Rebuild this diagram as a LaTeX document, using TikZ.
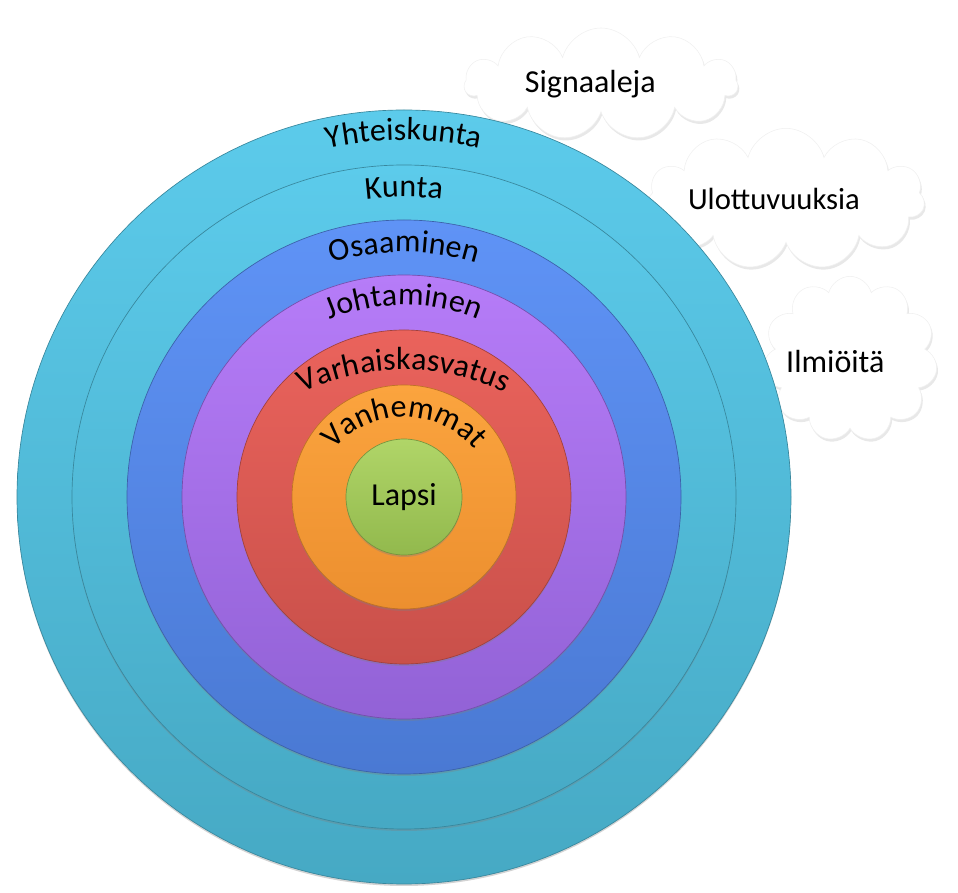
\documentclass[tikz,border=0pt]{standalone}
\usepackage{fontspec}
\setmainfont{Carlito}
\usetikzlibrary{calc, shapes.symbols, shadows, decorations.text}

\definecolor{skyTop}{HTML}{5CCBEB}
\definecolor{skyBot}{HTML}{46A9C4}
\definecolor{blueTop}{HTML}{5F93F6}
\definecolor{blueBot}{HTML}{4A79D3}
\definecolor{violetTop}{HTML}{B67CF8}
\definecolor{violetBot}{HTML}{9262D6}
\definecolor{redTop}{HTML}{EA635C}
\definecolor{redBot}{HTML}{C9504A}
\definecolor{orangeTop}{HTML}{FBA43E}
\definecolor{orangeBot}{HTML}{EC8F2F}
\definecolor{greenTop}{HTML}{B0D568}
\definecolor{greenBot}{HTML}{92B94D}

\newcommand{\ringfont}{\fontsize{24}{28}\selectfont}

\tikzset{
    cloudbox/.style={cloud, cloud puffs=11, cloud ignores aspect, fill=white, draw=gray!12,
        drop shadow={opacity=0.18, shadow xshift=1pt, shadow yshift=-2pt},
        font=\ringfont},
    ring/.style={line width=0.5pt,
        drop shadow={opacity=0.35, shadow xshift=0pt, shadow yshift=-1.5pt}},
}

\begin{document}
\begin{tikzpicture}[x=0.75pt, y=0.75pt]
    \useasboundingbox (0, 0) rectangle (958, 893);
    \coordinate (centre) at (404, 396);

    \node [cloudbox, minimum width=205pt, minimum height=84pt,
        label={[xshift=-8pt, font=\ringfont]center:Signaaleja}] (signaaleja) at (601, 809) {};
    \node [cloudbox, minimum width=208pt, minimum height=106pt,
        label={[xshift=-9pt, font=\fontsize{23}{27}\selectfont]center:Ulottuvuuksia}] (ulottuvuuksia) at (786, 694) {};
    \node [cloudbox, minimum width=131pt, minimum height=124pt,
        label={[xshift=-11pt, yshift=-2pt, font=\ringfont]center:Ilmiöitä}] (ilmioita) at (850, 534) {};

    \foreach \r/\colA/\colB in {387/skyTop/skyBot, 332/skyTop/skyBot, 277/blueTop/blueBot,
        222/violetTop/violetBot, 167/redTop/redBot, 112/orangeTop/orangeBot} {
        \shade [ring, top color=\colA, bottom color=\colB, draw=\colB!80!black] (centre) circle [radius=\r];
    }
    \node [circle, ring, minimum size=87pt, top color=greenTop, bottom color=greenBot,
        draw=greenBot!80!black, font=\ringfont] (lapsi) at (centre) {Lapsi};

    \foreach \b/\R/\txt in {357/357/Yhteiskunta, 300/300/Kunta, 245/245/Osaaminen,
        192/192/Johtaminen, 127/234/Varhaiskasvatus, 80/92/Vanhemmat} {
        \path [decorate, decoration={text along path, text align=center,
            text/.expanded={|\noexpand\ringfont|\txt}}]
            ($(centre) + (0, {\b-\R}) + (175:\R)$) arc [start angle=175, end angle=5, radius=\R];
    }
\end{tikzpicture}
\end{document}
